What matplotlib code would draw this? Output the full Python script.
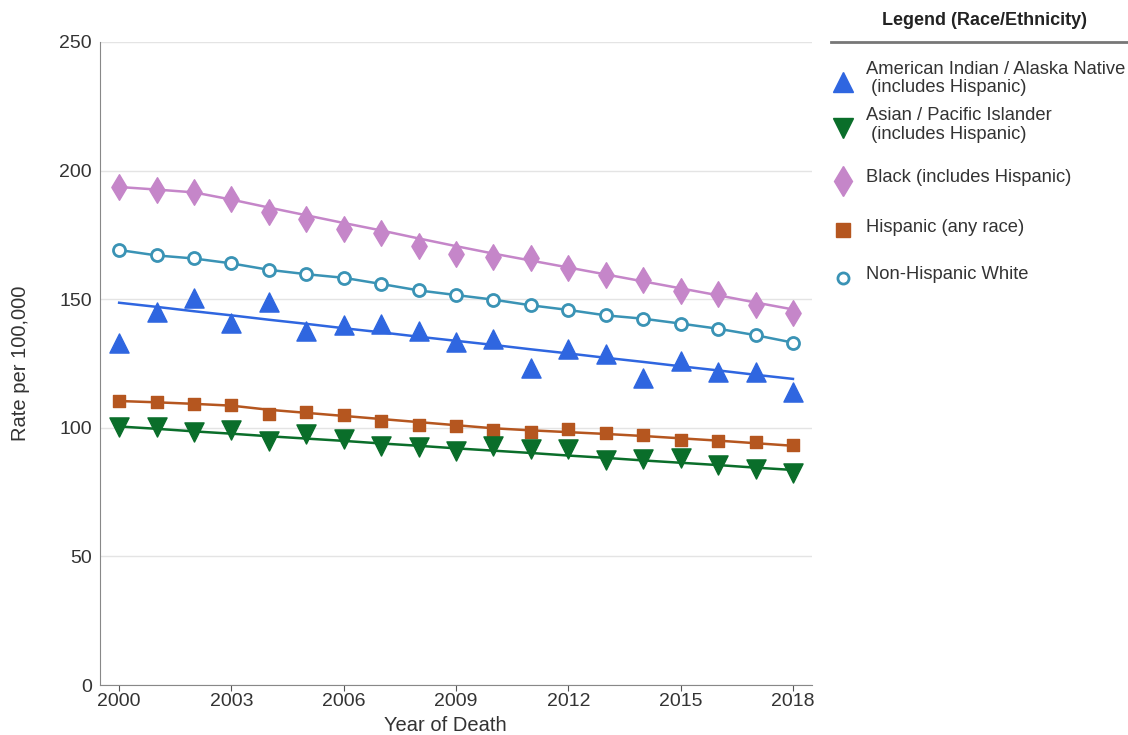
import matplotlib
matplotlib.use("Agg")
import matplotlib.pyplot as plt
from matplotlib.lines import Line2D

plt.rcParams['font.family'] = ['Liberation Sans', 'DejaVu Sans']

years = list(range(2000, 2019))

# observed rates per 100,000
aian = [133.0, 145.1, 150.3, 140.9, 149.0, 137.8, 140.0, 140.4, 137.8, 133.2,
        134.5, 123.1, 130.8, 128.8, 119.2, 126.0, 121.8, 121.8, 114.0]
api = [100.2, 100.2, 98.3, 99.3, 94.7, 97.4, 95.5, 92.9, 92.7, 91.0,
       93.1, 91.8, 91.6, 87.3, 87.8, 88.4, 85.6, 84.1, 82.3]
black = [193.5, 192.3, 191.6, 188.9, 184.0, 181.2, 177.4, 175.8, 170.7, 167.7,
         166.4, 166.1, 162.0, 159.2, 157.4, 153.2, 151.9, 147.8, 144.6]
hisp = [110.4, 110.0, 109.2, 108.8, 105.2, 106.0, 104.9, 102.5, 101.2, 100.5,
        99.0, 98.4, 99.7, 98.1, 97.0, 95.3, 95.0, 94.5, 93.3]
white = [169.1, 167.0, 165.8, 163.9, 161.4, 159.7, 158.3, 155.9, 153.4, 151.6,
         149.8, 147.6, 145.8, 143.7, 142.4, 140.5, 138.5, 136.0, 133.1]

# modeled trend lines
aian_fit = [148.6, 147.0, 145.3, 143.7, 142.0, 140.4, 138.7, 137.1, 135.4, 133.8,
            132.2, 130.5, 128.9, 127.2, 125.6, 123.9, 122.3, 120.6, 119.0]
api_fit = [100.5, 99.6, 98.6, 97.7, 96.7, 95.8, 94.9, 93.9, 93.0, 92.0,
           91.1, 90.2, 89.2, 88.3, 87.3, 86.4, 85.5, 84.5, 83.6]
black_fit = [193.6, 192.6, 191.5, 188.7, 185.6, 182.6, 179.6, 176.7, 173.6, 170.6,
             167.7, 165.0, 162.3, 159.6, 156.9, 154.2, 151.5, 148.7, 146.0]
hisp_fit = [110.4, 109.9, 109.3, 108.6, 107.0, 105.8, 104.6, 103.4, 102.2, 101.0,
            99.8, 99.0, 98.3, 97.6, 96.8, 95.9, 95.0, 94.0, 93.0]
white_fit = white

labels = ["American Indian / Alaska Native\n (includes Hispanic)",
          "Asian / Pacific Islander\n (includes Hispanic)",
          "Black (includes Hispanic)",
          "Hispanic (any race)",
          "Non-Hispanic White"]

c_aian = "#2f66e0"
c_api = "#0a6e2a"
c_black = "#c586c9"
c_hisp = "#b5561f"
c_white = "#3a93b5"

fig = plt.figure(figsize=(11.28, 7.35), dpi=100)
ax = fig.add_axes([0.0887, 0.068, 0.6312, 0.875])

ax.plot(years, black_fit, color=c_black, lw=1.8, zorder=2)
ax.plot(years, white_fit, color=c_white, lw=1.8, zorder=2)
ax.plot(years, aian_fit, color=c_aian, lw=1.8, zorder=2)
ax.plot(years, hisp_fit, color=c_hisp, lw=1.8, zorder=2)
ax.plot(years, api_fit, color=c_api, lw=1.8, zorder=2)

ax.scatter(years, black, marker="d", s=170, color=c_black, zorder=3)
ax.scatter(years, white, marker="o", s=75, facecolor="white", edgecolor=c_white,
           linewidth=2, zorder=3)
ax.scatter(years, aian, marker="^", s=190, color=c_aian, zorder=3)
ax.scatter(years, hisp, marker="s", s=85, color=c_hisp, zorder=3)
ax.scatter(years, api, marker="v", s=190, color=c_api, zorder=3)

ax.set_xlim(1999.49, 2018.51)
ax.set_ylim(0, 250)
ax.set_xticks(range(2000, 2019, 3))
ax.set_yticks(range(0, 251, 50))
ax.yaxis.grid(True, color="#e4e4e4", lw=1)
ax.set_axisbelow(True)
for s in ["top", "right"]:
    ax.spines[s].set_visible(False)
for s in ["left", "bottom"]:
    ax.spines[s].set_color("#888888")
ax.tick_params(axis="x", length=4, color="#555555", labelsize=14,
               labelcolor="#333333", pad=2)
ax.tick_params(axis="y", length=0, labelsize=14, labelcolor="#333333", pad=6)
ax.set_xlabel("Year of Death", fontsize=14.5, color="#333333")
ax.xaxis.set_label_coords(0.485, -0.048)
ax.set_ylabel("Rate per 100,000", fontsize=14.5, color="#333333", labelpad=21)

# legend panel
fig.text(0.873, 0.972, "Legend (Race/Ethnicity)", ha="center", va="center",
         fontsize=13, fontweight="bold", color="#222222")
fig.add_artist(Line2D([0.737, 1.0], [0.943, 0.943], color="#777777", lw=2,
                      transform=fig.transFigure))
legend_y = [0.893, 0.830, 0.758, 0.691, 0.626]
markers = [("^", c_aian, c_aian, 15), ("v", c_api, c_api, 15),
           ("d", c_black, c_black, 15), ("s", c_hisp, c_hisp, 10),
           ("o", "white", c_white, 8)]
for y, lab, (m, fc, ec, ms) in zip(legend_y, labels, markers):
    fig.add_artist(Line2D([0.747], [y - 0.004], marker=m, markersize=ms,
                          markerfacecolor=fc, markeredgecolor=ec,
                          markeredgewidth=2 if m == "o" else 1,
                          linestyle="none", transform=fig.transFigure))
    fig.text(0.768, y, lab, ha="left", va="center", fontsize=13.2,
             color="#333333", linespacing=1.1)

fig.savefig("out.png", dpi=100)
